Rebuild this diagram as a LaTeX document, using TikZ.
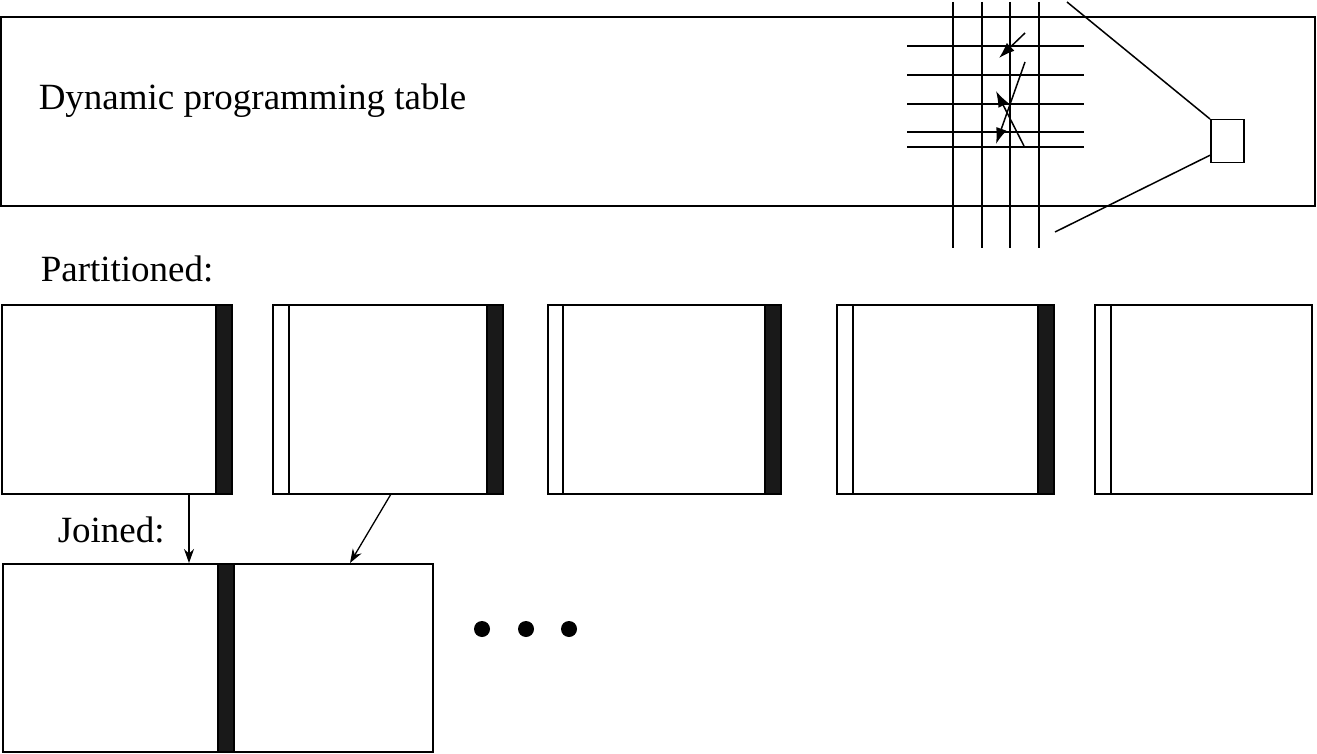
\documentclass[tikz,border=0pt]{standalone}
\usepackage{fontspec}
\setmainfont{Liberation Serif}
\usetikzlibrary{arrows.meta}
\begin{document}
\begin{tikzpicture}[x=1pt,y=-1pt,line width=1.5pt,
  lbl/.style={anchor=base west,inner sep=0pt,font=\fontsize{37}{42}\selectfont},
  box/.style={draw},
  band/.style={fill=black!90,draw=black},
  arr/.style={-{Latex[length=16pt,width=11pt]}},
  sarr/.style={-{Stealth[length=14pt,width=10pt]},line width=1.3pt}]
\useasboundingbox (0,0) rectangle (1317,754);
\draw[box] (1,17) rectangle (1315,206);
\node[lbl] (t1) at (38,110) {Dynamic programming table};
\foreach \x in {953,982,1010,1039} \draw (\x,2) -- (\x,248);
\foreach \y in {46,75,104,132,147} \draw (907,\y) -- (1084,\y);
\draw[arr] (1025,33) -- (999,58);
\draw[arr] (1025,62) -- (996,144);
\draw[arr] (1024,146) -- (996,91);
\node[draw,minimum width=33pt,minimum height=43pt,inner sep=0pt,anchor=north west] (sq) at (1210,119) {};
\coordinate (c1) at (1067,2);
\coordinate (c2) at (1055,232);
\draw (c1) -- (sq.north west);
\draw (c2) -- ([yshift=-14pt]sq.west);
\node[lbl] (t2) at (40,281) {Partitioned:};
\draw[box] (2,305) rectangle (232,494); \fill[band] (216,305) rectangle (232,494);
\draw[box] (273,305) rectangle (503,494); \draw (289,305) -- (289,494); \fill[band] (487,305) rectangle (503,494);
\draw[box] (548,305) rectangle (781,494); \draw (563,305) -- (563,494); \fill[band] (765,305) rectangle (781,494);
\draw[box] (837,305) rectangle (1054,494); \draw (853,305) -- (853,494); \fill[band] (1038,305) rectangle (1054,494);
\draw[box] (1095,305) rectangle (1312,494); \draw (1111,305) -- (1111,494);
\node[lbl] (t3) at (57,542) {Joined:};
\draw[box] (3,564) rectangle (433,752); \fill[band] (218,564) rectangle (234,752);
\coordinate (a1) at (189,494); \coordinate (b1) at (189,563);
\coordinate (a2) at (391,494); \coordinate (b2) at (350,563);
\draw[sarr] (a1) -- (b1);
\draw[sarr] (a2) -- (b2);
\foreach \x in {482,526,569} \fill (\x,629) circle (8);
\end{tikzpicture}
\end{document}
